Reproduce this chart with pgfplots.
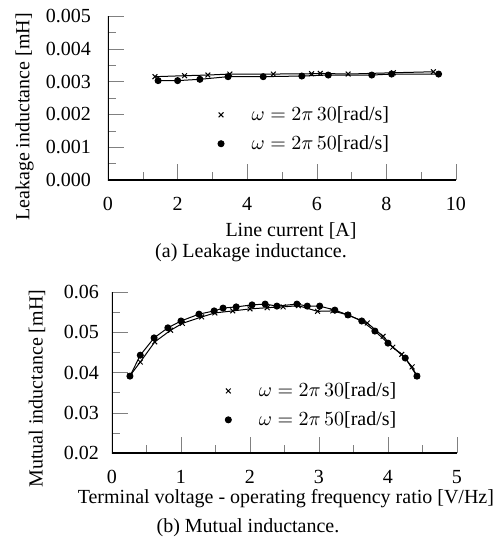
\documentclass[border=0pt]{standalone}
\usepackage{fontspec}
\setmainfont{Liberation Serif}
\usepackage{pgfplots}
\pgfplotsset{compat=1.18}
\begin{document}
\begin{tikzpicture}
% 1px of the reference = 0.5pt
\useasboundingbox (-54pt,-181pt) rectangle (193.5pt,90pt);
\pgfplotsset{
  myaxis/.style={
    scale only axis,
    axis line style={draw=none},
    xtick pos=left,
    ytick pos=left,
    tick align=inside,
    major tick length=8pt,
    minor tick length=4pt,
    minor x tick num=1,
    minor y tick num=1,
    /pgf/number format/assume math mode=true,
    scaled y ticks=false,
    legend cell align=left,
    legend style={draw=none, fill=none, row sep=2pt, font=\normalsize},
    legend image code/.code={%
      \draw[##1, only marks] plot coordinates {(0pt,0pt)};
      \path (-4pt,0pt) (13pt,0pt);},
  },
  s30/.style={black, line width=0.5pt, mark=x, mark size=1.7pt},
  s50/.style={black, line width=0.5pt, mark=*, mark size=1.5pt},
}
\begin{axis}[
  myaxis,
  name=top,
  at={(0,0)}, anchor=south west,
  width=174pt, height=82pt,
  xmin=0, xmax=10, ymin=0, ymax=0.005,
  xtick={0,2,4,6,8,10},
  ytick={0,0.001,0.002,0.003,0.004,0.005},
  yticklabel style={/pgf/number format/fixed, /pgf/number format/fixed zerofill, /pgf/number format/precision=3, xshift=-5pt},
  xticklabel style={yshift=-5pt},
  xlabel={Line current [A]},
  xlabel style={at={(axis description cs:0.526,-0.311)}, anchor=center},
  ylabel={Leakage inductance [mH]},
  ylabel style={at={(axis description cs:-0.24,0.384)}, anchor=center},
  legend style={at={(axis description cs:0.282,0.50)}, anchor=north west},
]
\draw[line width=0.7pt] (rel axis cs:0,1) -- (rel axis cs:0,0) -- (rel axis cs:1,0);
\addplot[s30] coordinates {
  (1.35,0.00315) (2.2,0.00318) (2.87,0.00320) (3.5,0.00323) (4.75,0.00323)
  (5.85,0.00324) (6.1,0.00325) (6.9,0.00323) (8.2,0.00327) (9.35,0.00330)
};
\addlegendentry{$\omega = 2\pi\,30$[rad/s]}
\addplot[s50] coordinates {
  (1.44,0.00303) (2.0,0.00303) (2.64,0.00307) (3.45,0.00315) (4.46,0.00315)
  (5.57,0.00317) (6.33,0.00320) (7.58,0.00320) (8.15,0.00323) (9.5,0.00323)
};
\addlegendentry{$\omega = 2\pi\,50$[rad/s]}
\end{axis}

\begin{axis}[
  myaxis,
  name=bottom,
  at={(2pt,-136.5pt)}, anchor=south west,
  width=172.5pt, height=80.5pt,
  xmin=0, xmax=5, ymin=0.02, ymax=0.06,
  xtick={0,1,2,3,4,5},
  ytick={0.02,0.03,0.04,0.05,0.06},
  yticklabel style={/pgf/number format/fixed, /pgf/number format/fixed zerofill, /pgf/number format/precision=2, xshift=-3pt},
  xticklabel style={yshift=-5pt},
  xlabel={Terminal voltage - operating frequency ratio [V/Hz]},
  xlabel style={at={(axis description cs:0.504,-0.286)}, anchor=center},
  ylabel={Mutual inductance [mH]},
  ylabel style={at={(axis description cs:-0.217,0.40)}, anchor=center},
  legend style={at={(axis description cs:0.294,0.49)}, anchor=north west},
]
\draw[line width=0.7pt] (rel axis cs:0,1) -- (rel axis cs:0,0) -- (rel axis cs:1,0);
\addplot[s30] coordinates {
  (0.26,0.0392) (0.41,0.0426) (0.62,0.0476) (0.85,0.0505) (1.02,0.0522)
  (1.30,0.0538) (1.49,0.0548) (1.75,0.0553) (2.0,0.0558) (2.25,0.0561)
  (2.48,0.0563) (2.70,0.0566) (2.98,0.0552) (3.20,0.0553) (3.42,0.0543)
  (3.70,0.0523) (3.93,0.0490) (4.07,0.0463) (4.20,0.0445) (4.35,0.0414)
  (4.42,0.0391)
};
\addlegendentry{$\omega = 2\pi\,30$[rad/s]}
\addplot[s50] coordinates {
  (0.26,0.0391) (0.41,0.0443) (0.61,0.0486) (0.81,0.0511) (1.0,0.0528)
  (1.26,0.0545) (1.48,0.0553) (1.61,0.0560) (1.80,0.0563) (2.03,0.0568)
  (2.22,0.0570) (2.39,0.0565) (2.68,0.0570) (2.83,0.0565) (3.01,0.0565)
  (3.23,0.0555) (3.42,0.0543) (3.62,0.0528) (3.81,0.0503) (4.0,0.0473)
  (4.25,0.0436) (4.42,0.0391)
};
\addlegendentry{$\omega = 2\pi\,50$[rad/s]}
\end{axis}

\node at (71.5pt,-36.5pt) {(a) Leakage inductance.};
\node at (70pt,-174pt) {(b) Mutual inductance.};
\end{tikzpicture}
\end{document}
